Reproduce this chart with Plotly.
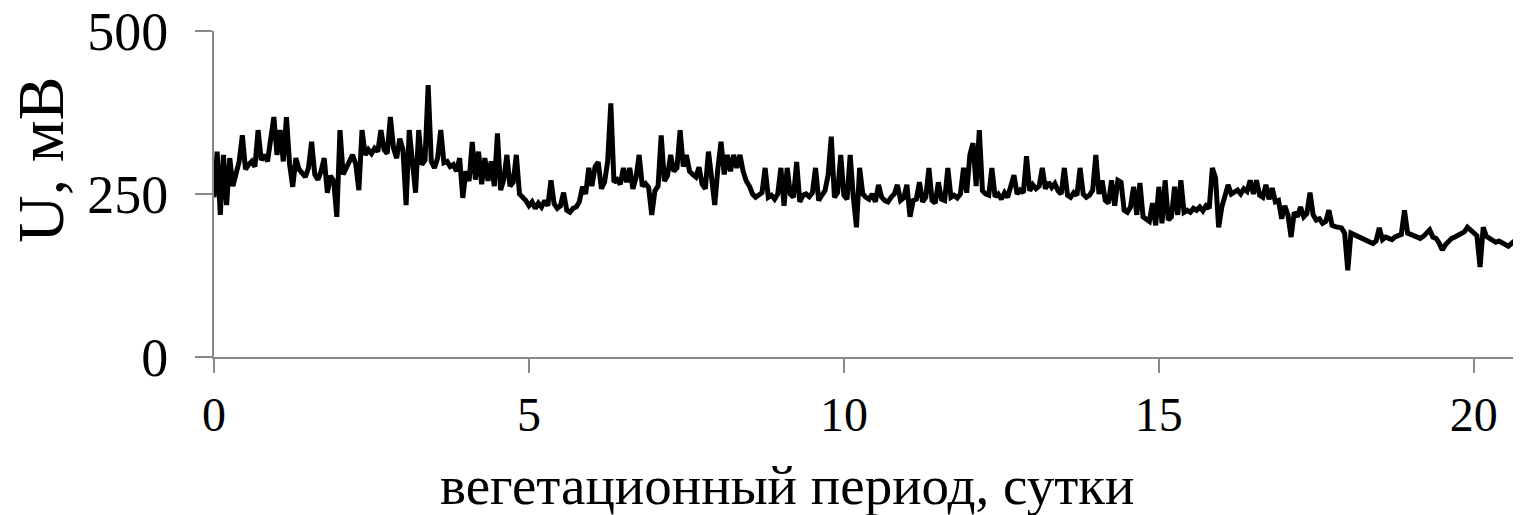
import plotly.graph_objects as go

# x step: 0.05 day
step = 0.05
u_mv = [
 # day 0
 245, 315, 218, 310, 233, 305, 262, 278, 300, 340, 288, 295, 300, 292, 348, 302, 310, 300, 335, 368,
 # day 1
 310, 348, 300, 368, 296, 261, 305, 288, 282, 276, 290, 330, 280, 272, 285, 305, 252, 278, 270, 215,
 # day 2
 348, 280, 290, 300, 310, 296, 256, 348, 310, 318, 312, 320, 315, 348, 318, 312, 368, 320, 305, 335,
 # day 3
 318, 233, 348, 300, 252, 348, 295, 302, 417, 300, 290, 305, 348, 298, 300, 292, 295, 285, 305, 244,
 # day 4
 285, 270, 330, 272, 315, 265, 305, 270, 300, 262, 343, 256, 272, 310, 262, 268, 310, 250, 245, 240,
 # day 5
 232, 238, 228, 236, 230, 240, 232, 271, 235, 228, 232, 252, 225, 222, 228, 230, 238, 261, 250, 290,
 # day 6
 262, 292, 299, 258, 268, 300, 389, 268, 272, 265, 290, 268, 290, 258, 275, 310, 262, 266, 260, 218,
 # day 7
 255, 262, 340, 270, 278, 310, 285, 290, 348, 292, 310, 285, 280, 276, 291, 265, 258, 315, 275, 233,
 # day 8
 290, 330, 280, 310, 285, 310, 290, 310, 285, 270, 262, 250, 245, 248, 252, 290, 245, 248, 242, 250,
 # day 9
 290, 232, 290, 250, 245, 299, 238, 248, 250, 246, 252, 290, 240, 248, 255, 279, 338, 245, 252, 310,
 # day 10
 248, 242, 310, 245, 199, 290, 250, 245, 242, 250, 238, 264, 245, 240, 238, 245, 250, 264, 240, 244,
 # day 11
 264, 215, 240, 242, 268, 238, 245, 290, 240, 236, 268, 242, 240, 290, 245, 248, 244, 250, 290, 252,
 # day 12
 310, 328, 262, 348, 255, 250, 248, 290, 246, 250, 242, 252, 245, 262, 279, 250, 256, 252, 308, 255,
 # day 13
 264, 258, 262, 290, 258, 268, 260, 266, 255, 250, 290, 248, 245, 252, 248, 290, 250, 245, 248, 256,
 # day 14
 310, 250, 271, 240, 236, 271, 232, 271, 268, 225, 222, 230, 261, 218, 267, 215, 212, 208, 236, 202,
 # day 15
 261, 205, 271, 210, 215, 261, 218, 271, 222, 225, 222, 228, 225, 230, 224, 232, 228, 290, 275, 199,
 # day 16
 230, 245, 264, 250, 252, 256, 250, 258, 254, 271, 250, 271, 248, 245, 264, 242, 259, 238, 240, 212,
 # day 17
 232, 218, 184, 222, 215, 230, 215, 220, 252, 218, 210, 212, 205, 208, 225, 202, 200, 198, 198, 190,
 # day 18
 133, 190, 188, 186, 184, 180, 178, 176, 174, 178, 198, 180, 184, 182, 180, 184, 186, 188, 225, 190,
 # day 19
 188, 186, 184, 182, 185, 190, 195, 184, 182, 175, 164, 172, 178, 182, 184, 186, 190, 192, 199, 194,
 # day 20
 190, 186, 138, 199, 185, 182, 180, 176, 178, 175, 172, 170, 174, 178, 182, 176, 172,
]
days = [round(i * step, 3) for i in range(len(u_mv))]

x_ticks = [0, 5, 10, 15, 20]
y_ticks = [0, 250, 500]
x_title = "вегетационный период, сутки"
y_title = "U, мВ"

FONT = "Liberation Serif"
AX = "#898989"

# page body has an 8px margin: figure is shifted by (8, 8)
OFF = 8
W, H = 1521 - OFF, 515 - OFF
L, T = 214 - OFF, 31 - OFF
B = H - (357 - OFF)
PW = W - L
PH = H - T - B

fig = go.Figure()
fig.add_trace(go.Scatter(x=days, y=u_mv, mode="lines",
                         line=dict(color="black", width=5), hoverinfo="skip",
                         showlegend=False))

fig.update_layout(
    width=W, height=H,
    margin=dict(l=L, r=0, t=T, b=B, autoexpand=False),
    paper_bgcolor="white", plot_bgcolor="white",
    showlegend=False,
)
fig.update_xaxes(range=[0, 20.75], tickvals=x_ticks, ticks="outside", ticklen=14,
                 tickwidth=2, tickcolor=AX, showline=True, linecolor=AX, linewidth=2,
                 showgrid=False, zeroline=False, ticklabeloverflow="allow",
                 automargin=False,
                 tickfont=dict(family=FONT, size=48, color="black"),
                 ticklabelstandoff=0)
fig.update_yaxes(range=[0, 500], tickvals=y_ticks, ticks="outside", ticklen=17,
                 tickwidth=2, tickcolor=AX, showline=True, linecolor=AX, linewidth=2,
                 showgrid=False, zeroline=False, ticklabeloverflow="allow",
                 automargin=False,
                 tickfont=dict(family=FONT, size=54, color="black"),
                 ticklabelstandoff=16)

fig.add_annotation(text=x_title, xref="paper", yref="paper",
                   x=(787 - 214) / PW, y=(357 - 485) / PH,
                   xanchor="center", yanchor="middle", showarrow=False,
                   font=dict(family=FONT, size=55, color="black"))
fig.add_annotation(text=y_title, xref="paper", yref="paper",
                   x=(40 - 214) / PW, y=(357 - 160) / PH,
                   xanchor="center", yanchor="middle", showarrow=False, textangle=-90,
                   font=dict(family=FONT, size=66, color="black"))

fig.write_html("out.html")
